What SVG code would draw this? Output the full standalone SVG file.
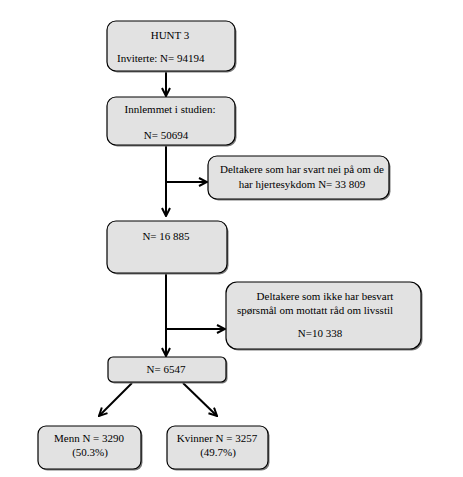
<svg xmlns="http://www.w3.org/2000/svg" width="463" height="477" viewBox="0 0 463 477">
<defs>
<style>
.box{fill:#e2e2e2;stroke:#000;stroke-width:1.2}
.sh{fill:#7a7a7a}
.t{font-family:"Liberation Serif","Times New Roman",serif;font-size:11px;fill:#000}
.c{text-anchor:middle}
.ln{stroke:#000;stroke-width:2;fill:none}
</style>
<marker id="ah" viewBox="0 0 10 10" refX="9" refY="5" markerWidth="5" markerHeight="5" orient="auto" markerUnits="strokeWidth">
<path d="M1,1 L9,5 L1,9" fill="none" stroke="#000" stroke-width="2"/>
</marker>
</defs>
<rect width="463" height="477" fill="#fff"/>
<g id="connectors">
<line class="ln" x1="166" y1="72" x2="166" y2="96" marker-end="url(#ah)"/>
<line class="ln" x1="166" y1="145" x2="166" y2="216" marker-end="url(#ah)"/>
<line class="ln" x1="166" y1="182" x2="207" y2="182" marker-end="url(#ah)"/>
<line class="ln" x1="166" y1="273" x2="166" y2="356" marker-end="url(#ah)"/>
<line class="ln" x1="166" y1="329" x2="225" y2="329" marker-end="url(#ah)"/>
<line class="ln" x1="132" y1="383" x2="99" y2="416" marker-end="url(#ah)"/>
<line class="ln" x1="183" y1="383" x2="217" y2="416" marker-end="url(#ah)"/>
</g>
<g id="n1">
<rect class="sh" x="108.5" y="22.5" width="128" height="50" rx="9"/>
<rect class="box" x="107" y="21" width="128" height="50" rx="9"/>
<text class="t c" x="170" y="39">HUNT 3</text>
<text class="t" x="117" y="62">Inviterte: N= 94194</text>
</g>
<g id="n2">
<rect class="sh" x="108.5" y="98.5" width="128" height="48" rx="9"/>
<rect class="box" x="107" y="97" width="128" height="48" rx="9"/>
<text class="t c" x="170" y="113">Innlemmet i studien:</text>
<text class="t c" x="166" y="139">N= 50694</text>
</g>
<g id="n3">
<rect class="sh" x="209.5" y="157.5" width="181" height="43" rx="9"/>
<rect class="box" x="208" y="156" width="181" height="43" rx="9"/>
<text class="t c" x="302" y="173">Deltakere som har svart nei på om de</text>
<text class="t c" x="302" y="188">har hjertesykdom N= 33 809</text>
</g>
<g id="n4">
<rect class="sh" x="108.5" y="222.5" width="120" height="52" rx="9"/>
<rect class="box" x="107" y="221" width="120" height="52" rx="9"/>
<text class="t c" x="166" y="240">N= 16 885</text>
</g>
<g id="n5">
<rect class="sh" x="227.5" y="283.5" width="195" height="67" rx="11"/>
<rect class="box" x="226" y="282" width="195" height="67" rx="11"/>
<text class="t c" x="325" y="300">Deltakere som ikke har besvart</text>
<text class="t c" x="315" y="314">spørsmål om mottatt råd om livsstil</text>
<text class="t c" x="320" y="337">N=10 338</text>
</g>
<g id="n6">
<rect class="sh" x="109.5" y="358.5" width="118" height="25" rx="5"/>
<rect class="box" x="108" y="357" width="118" height="25" rx="5"/>
<text class="t c" x="166" y="373">N= 6547</text>
</g>
<g id="n7">
<rect class="sh" x="39.5" y="427.5" width="103" height="43" rx="8"/>
<rect class="box" x="38" y="426" width="103" height="43" rx="8"/>
<text class="t c" x="89" y="442">Menn N = 3290</text>
<text class="t c" x="90" y="456">(50.3%)</text>
</g>
<g id="n8">
<rect class="sh" x="168.5" y="427.5" width="101" height="43" rx="8"/>
<rect class="box" x="167" y="426" width="101" height="43" rx="8"/>
<text class="t c" x="217" y="442">Kvinner N = 3257</text>
<text class="t c" x="218" y="456">(49.7%)</text>
</g>
</svg>
